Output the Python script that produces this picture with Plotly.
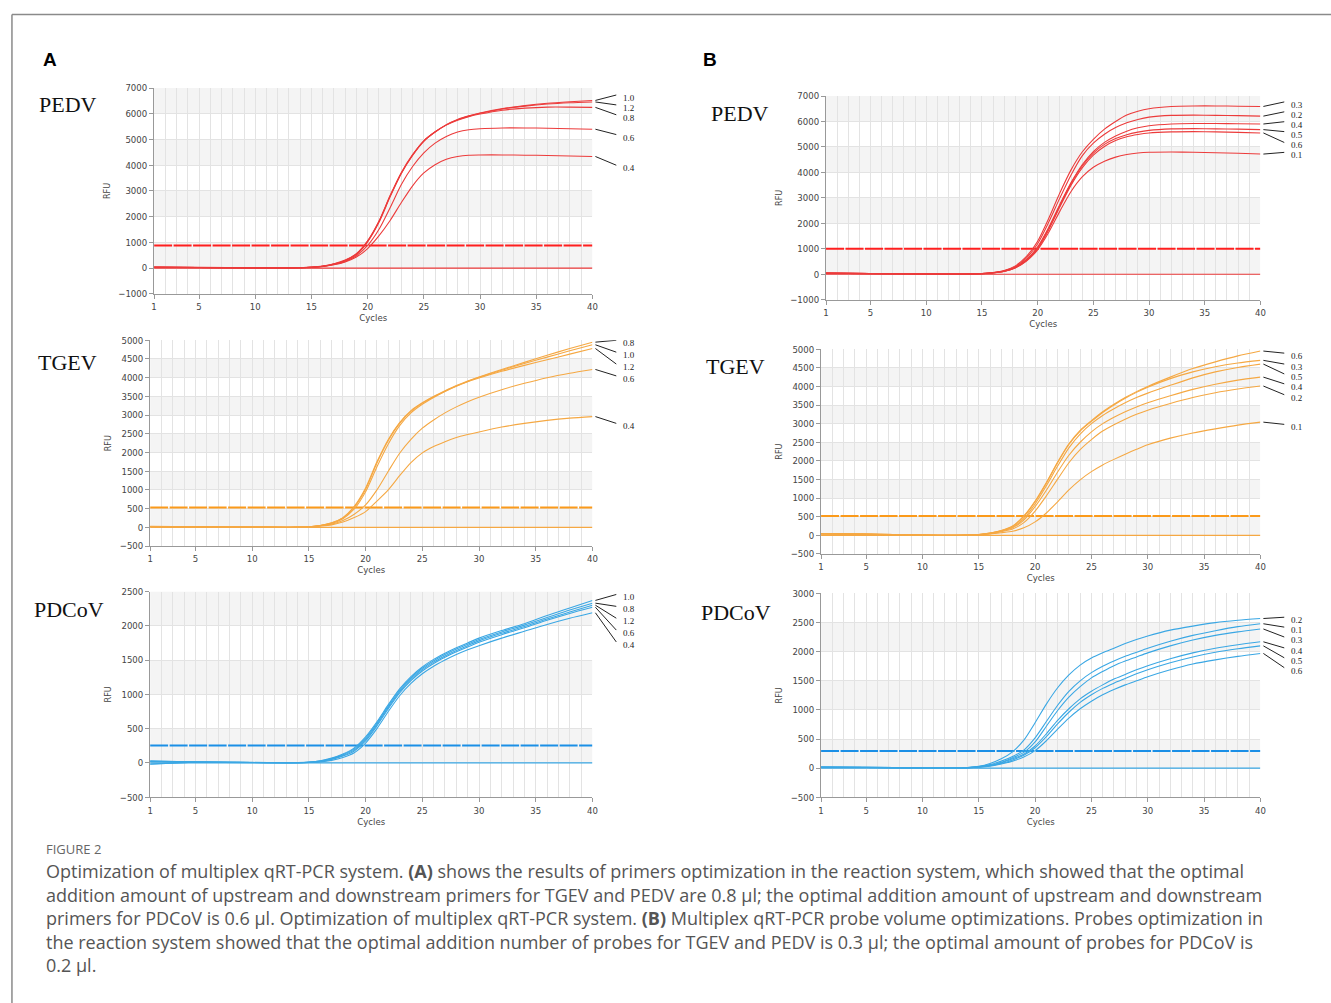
import plotly.graph_objects as go

W, H = 1331, 1003
FW, FH = W, H

# ---------------- data ----------------
cycles = [1, 5, 10, 13, 14, 15, 16, 17, 18, 19, 20, 21, 22, 23, 24, 25, 26, 27, 28, 29, 30, 32, 34, 36, 38, 40]

# Panel A – PEDV (primer volume, µl)
a_pedv_labels = ["1.0", "1.2", "0.8", "0.6", "0.4"]
a_pedv_10 = [40, 25, 10, 8, 15, 35, 75, 160, 300, 550, 1050, 1800, 2800, 3700, 4400, 4950, 5300, 5580, 5780, 5920, 6030, 6200, 6320, 6410, 6470, 6520]
a_pedv_12 = [35, 25, 10, 8, 14, 33, 72, 155, 290, 530, 1020, 1770, 2770, 3680, 4380, 4930, 5290, 5570, 5770, 5910, 6020, 6190, 6300, 6380, 6430, 6460]
a_pedv_08 = [45, 28, 12, 9, 16, 36, 78, 165, 310, 560, 1060, 1820, 2820, 3720, 4410, 4950, 5290, 5560, 5750, 5890, 5990, 6140, 6220, 6260, 6260, 6250]
a_pedv_06 = [35, 22, 10, 8, 13, 30, 65, 140, 260, 480, 880, 1500, 2350, 3250, 3950, 4480, 4860, 5120, 5290, 5380, 5420, 5450, 5450, 5440, 5420, 5400]
a_pedv_04 = [30, 20, 8, 6, 12, 28, 60, 130, 240, 430, 760, 1250, 1850, 2550, 3200, 3700, 4020, 4230, 4340, 4390, 4400, 4400, 4390, 4380, 4360, 4340]
a_pedv_threshold = 880

# Panel A – TGEV
a_tgev_labels = ["0.8", "1.0", "1.2", "0.6", "0.4"]
a_tgev_08 = [20, 15, 5, 3, 5, 15, 50, 120, 260, 560, 1050, 1750, 2350, 2800, 3120, 3330, 3500, 3650, 3790, 3910, 4020, 4220, 4410, 4600, 4780, 4950]
a_tgev_10 = [25, 16, 6, 3, 5, 14, 48, 115, 250, 540, 1020, 1720, 2320, 2780, 3100, 3320, 3490, 3640, 3780, 3900, 4010, 4200, 4380, 4550, 4720, 4880]
a_tgev_12 = [22, 15, 5, 3, 5, 13, 45, 105, 230, 490, 950, 1620, 2230, 2720, 3060, 3290, 3470, 3630, 3770, 3890, 3990, 4170, 4330, 4480, 4630, 4780]
a_tgev_06 = [20, 14, 5, 3, 4, 12, 40, 85, 180, 350, 600, 1000, 1500, 1980, 2350, 2650, 2870, 3060, 3220, 3360, 3480, 3680, 3850, 4000, 4120, 4220]
a_tgev_04 = [18, 13, 5, 3, 4, 10, 32, 65, 140, 260, 420, 700, 1000, 1380, 1730, 1990, 2160, 2290, 2400, 2480, 2550, 2680, 2780, 2860, 2920, 2960]
a_tgev_threshold = 530

# Panel A – PDCoV
a_pdcov_labels = ["1.0", "0.8", "1.2", "0.6", "0.4"]
a_pdcov_10 = [25, 15, 8, 3, 5, 12, 30, 70, 130, 220, 380, 600, 850, 1080, 1260, 1400, 1510, 1600, 1680, 1750, 1820, 1930, 2030, 2150, 2260, 2370]
a_pdcov_08 = [-15, 10, 6, 2, 4, 11, 28, 65, 120, 205, 360, 580, 830, 1060, 1240, 1380, 1490, 1580, 1660, 1730, 1800, 1910, 2010, 2120, 2230, 2330]
a_pdcov_12 = [30, 14, 6, 2, 3, 10, 25, 58, 110, 190, 340, 560, 810, 1040, 1220, 1360, 1470, 1560, 1640, 1710, 1780, 1890, 1990, 2100, 2200, 2300]
a_pdcov_06 = [-20, 12, 6, 2, 3, 9, 22, 52, 100, 175, 320, 540, 790, 1020, 1200, 1340, 1450, 1540, 1620, 1690, 1760, 1870, 1970, 2080, 2180, 2270]
a_pdcov_04 = [20, 12, 5, 1, 2, 6, 15, 38, 80, 150, 290, 500, 750, 980, 1160, 1300, 1410, 1500, 1580, 1650, 1710, 1820, 1920, 2020, 2110, 2190]
a_pdcov_threshold = 255

# Panel B – PEDV (probe volume, µl)
b_pedv_labels = ["0.3", "0.2", "0.4", "0.5", "0.6", "0.1"]
b_pedv_03 = [50, 30, 15, 10, 15, 30, 70, 150, 330, 700, 1300, 2200, 3200, 4100, 4800, 5300, 5700, 6000, 6250, 6400, 6500, 6590, 6610, 6610, 6600, 6590]
b_pedv_02 = [45, 28, 14, 10, 14, 28, 65, 140, 300, 640, 1200, 2050, 3000, 3900, 4650, 5150, 5500, 5760, 5950, 6080, 6170, 6240, 6250, 6240, 6230, 6210]
b_pedv_04 = [45, 28, 14, 10, 14, 27, 60, 130, 280, 580, 1080, 1850, 2750, 3600, 4300, 4820, 5180, 5430, 5620, 5750, 5830, 5900, 5920, 5920, 5910, 5900]
b_pedv_05 = [40, 26, 13, 9, 13, 26, 58, 125, 270, 560, 1040, 1800, 2700, 3560, 4250, 4760, 5100, 5330, 5480, 5580, 5650, 5710, 5720, 5710, 5700, 5680]
b_pedv_06 = [40, 25, 12, 9, 12, 25, 55, 120, 260, 540, 1000, 1750, 2650, 3500, 4180, 4680, 5020, 5250, 5400, 5490, 5550, 5590, 5600, 5590, 5570, 5550]
b_pedv_01 = [38, 24, 12, 8, 12, 24, 52, 115, 250, 520, 960, 1650, 2480, 3250, 3820, 4200, 4440, 4600, 4700, 4760, 4790, 4800, 4790, 4770, 4750, 4720]
b_pedv_threshold = 1000

# Panel B – TGEV
b_tgev_labels = ["0.6", "0.3", "0.5", "0.4", "0.2", "0.1"]
b_tgev_06 = [45, 35, 5, 3, 6, 20, 60, 130, 250, 520, 920, 1420, 1970, 2460, 2820, 3080, 3320, 3520, 3700, 3860, 4000, 4250, 4480, 4660, 4820, 4950]
b_tgev_03 = [40, 30, 5, 3, 6, 19, 58, 125, 240, 500, 900, 1400, 1950, 2440, 2800, 3060, 3300, 3500, 3680, 3840, 3980, 4210, 4390, 4530, 4630, 4700]
b_tgev_05 = [50, 32, 6, 3, 6, 18, 55, 120, 220, 450, 840, 1330, 1860, 2350, 2720, 3000, 3220, 3400, 3560, 3700, 3820, 4030, 4230, 4390, 4510, 4600]
b_tgev_04 = [38, 28, 5, 3, 5, 16, 50, 110, 200, 410, 770, 1210, 1700, 2150, 2500, 2780, 3000, 3170, 3320, 3450, 3560, 3750, 3920, 4060, 4170, 4250]
b_tgev_02 = [42, 30, 5, 3, 5, 15, 45, 100, 170, 340, 650, 1060, 1510, 1950, 2300, 2570, 2800, 2970, 3120, 3250, 3360, 3540, 3700, 3830, 3930, 4010]
b_tgev_01 = [35, 25, 4, 2, 4, 12, 35, 70, 110, 200, 360, 600, 900, 1220, 1490, 1710, 1890, 2040, 2180, 2310, 2430, 2610, 2750, 2860, 2960, 3040]
b_tgev_threshold = 520

# Panel B – PDCoV
b_pdcov_labels = ["0.2", "0.1", "0.3", "0.4", "0.5", "0.6"]
b_pdcov_02 = [20, 15, 3, 2, 10, 30, 80, 160, 280, 480, 780, 1100, 1380, 1600, 1770, 1890, 1980, 2060, 2140, 2210, 2270, 2370, 2440, 2500, 2540, 2570]
b_pdcov_01 = [18, 14, 3, 2, 8, 25, 60, 120, 200, 310, 520, 800, 1080, 1320, 1500, 1640, 1750, 1840, 1920, 1990, 2060, 2180, 2280, 2360, 2430, 2480]
b_pdcov_03 = [16, 13, 3, 1, 7, 22, 50, 100, 180, 270, 450, 720, 990, 1220, 1400, 1550, 1660, 1760, 1840, 1910, 1980, 2100, 2200, 2280, 2340, 2390]
b_pdcov_04 = [15, 12, 2, 1, 6, 20, 45, 90, 160, 240, 380, 590, 820, 1020, 1190, 1320, 1430, 1530, 1610, 1690, 1760, 1880, 1980, 2060, 2120, 2170]
b_pdcov_05 = [15, 12, 2, 1, 6, 18, 40, 80, 140, 220, 350, 540, 760, 960, 1130, 1260, 1370, 1460, 1540, 1620, 1690, 1810, 1910, 1990, 2050, 2100]
b_pdcov_06 = [14, 11, 2, 1, 5, 16, 35, 70, 120, 190, 300, 470, 670, 860, 1020, 1150, 1260, 1350, 1430, 1500, 1570, 1690, 1790, 1860, 1920, 1970]
b_pdcov_threshold = 295

x_tick_vals = [1, 5, 10, 15, 20, 25, 30, 35, 40]

# ---------------- styles / layout geometry ----------------
RED, RED_T = "#ec3b3b", "#ff1f1f"
ORG, ORG_T = "#f5a843", "#fb9a1a"
BLU, BLU_T = "#3aa7e4", "#1b8fe6"

panels = [
    dict(name="PEDV", curves=[a_pedv_10, a_pedv_12, a_pedv_08, a_pedv_06, a_pedv_04], labels=a_pedv_labels,
         thr=a_pedv_threshold, col=RED, tcol=RED_T, xpx=(152, 593), ypx=(83, 291), yr=(-1000, 7000), dt=1000,
         name_xy=(65, 100), lab_px=[93, 103, 113, 133, 164]),
    dict(name="TGEV", curves=[a_tgev_08, a_tgev_10, a_tgev_12, a_tgev_06, a_tgev_04], labels=a_tgev_labels,
         thr=a_tgev_threshold, col=ORG, tcol=ORG_T, xpx=(148, 593), ypx=(338, 546), yr=(-500, 5000), dt=500,
         name_xy=(65, 360), lab_px=[341, 353, 365, 377, 425]),
    dict(name="PDCoV", curves=[a_pdcov_10, a_pdcov_08, a_pdcov_12, a_pdcov_06, a_pdcov_04], labels=a_pdcov_labels,
         thr=a_pdcov_threshold, col=BLU, tcol=BLU_T, xpx=(148, 593), ypx=(592, 800), yr=(-500, 2500), dt=500,
         name_xy=(66, 610), lab_px=[598, 610, 622, 634, 646]),
    dict(name="PEDV", curves=[b_pedv_03, b_pedv_02, b_pedv_04, b_pedv_05, b_pedv_06, b_pedv_01], labels=b_pedv_labels,
         thr=b_pedv_threshold, col=RED, tcol=RED_T, xpx=(828, 1265), ypx=(91, 297), yr=(-1000, 7000), dt=1000,
         name_xy=(741, 109), lab_px=[100, 110, 120, 130, 141, 151]),
    dict(name="TGEV", curves=[b_tgev_06, b_tgev_03, b_tgev_05, b_tgev_04, b_tgev_02, b_tgev_01], labels=b_tgev_labels,
         thr=b_tgev_threshold, col=ORG, tcol=ORG_T, xpx=(823, 1265), ypx=(347, 554), yr=(-500, 5000), dt=500,
         name_xy=(737, 365), lab_px=[354, 365, 375, 385, 396, 426]),
    dict(name="PDCoV", curves=[b_pdcov_02, b_pdcov_01, b_pdcov_03, b_pdcov_04, b_pdcov_05, b_pdcov_06], labels=b_pdcov_labels,
         thr=b_pdcov_threshold, col=BLU, tcol=BLU_T, xpx=(823, 1265), ypx=(594, 800), yr=(-500, 3000), dt=500,
         name_xy=(737, 613), lab_px=[621, 631, 641, 652, 662, 672]),
]

TICK_FONT = dict(family="Liberation Sans Narrow, DejaVu Sans Condensed, Roboto Condensed, Arial Narrow, sans-serif", size=9.5, color="#444")
SERIF = "Liberation Serif, Times New Roman, serif"
GRID = "#e3e3e3"
BAND = "#f4f4f4"
AXC = "#999999"


def px_x(px):
    return px / FW


def px_y(py):
    return 1 - py / FH


fig = go.Figure()
shapes = []
annotations = []
layout_axes = {}

for i, p in enumerate(panels, start=1):
    xa = "x" if i == 1 else f"x{i}"
    ya = "y" if i == 1 else f"y{i}"
    y0, y1 = p["yr"]
    top, bot = p["ypx"]
    left, right = p["xpx"]

    # alternating grey bands
    k = 0
    while k * p["dt"] < y1:
        if k % 2 == 0:
            shapes.append(dict(type="rect", xref=xa, yref=ya, x0=1, x1=40, y0=k * p["dt"], y1=(k + 1) * p["dt"],
                               fillcolor=BAND, line=dict(width=0), layer="below"))
        k += 1

    # baseline and threshold
    fig.add_trace(go.Scatter(x=[cycles[0], cycles[-1]], y=[0, 0], mode="lines", xaxis=xa, yaxis=ya,
                             line=dict(color=p["col"], width=1.2), hoverinfo="skip", showlegend=False))
    fig.add_trace(go.Scatter(x=[cycles[0], cycles[-1]], y=[p["thr"], p["thr"]], mode="lines", xaxis=xa, yaxis=ya,
                             line=dict(color=p["tcol"], width=2, dash="18px,1.5px"), hoverinfo="skip", showlegend=False))
    # amplification curves
    for lab, vals in zip(p["labels"], p["curves"]):
        fig.add_trace(go.Scatter(x=cycles, y=vals, mode="lines", xaxis=xa, yaxis=ya, name=lab,
                                 line=dict(color=p["col"], width=1.1, shape="spline", smoothing=0.7),
                                 hoverinfo="skip", showlegend=False))

    layout_axes["xaxis" if i == 1 else f"xaxis{i}"] = dict(
        domain=[px_x(left), px_x(right)], anchor=ya, range=[1, 40], tickmode="array", tickvals=x_tick_vals,
        ticks="outside", ticklen=4, tickcolor=AXC, showline=True, linecolor=AXC, linewidth=1,
        showgrid=True, gridcolor=GRID, gridwidth=1, zeroline=False,
        minor=dict(tickmode="linear", tick0=1, dtick=1, showgrid=True, gridcolor=GRID, gridwidth=1),
        tickfont=TICK_FONT, title=dict(text="Cycles", font=TICK_FONT, standoff=1), fixedrange=True)
    layout_axes["yaxis" if i == 1 else f"yaxis{i}"] = dict(
        domain=[px_y(bot), px_y(top)], anchor=xa, range=[y0, y1], tickmode="linear", tick0=y0, dtick=p["dt"],
        ticks="outside", ticklen=4, tickcolor=AXC, showline=True, linecolor=AXC, linewidth=1,
        showgrid=True, gridcolor=GRID, gridwidth=1, zeroline=False,
        tickfont=TICK_FONT, title=dict(text="RFU", font=dict(TICK_FONT, size=9), standoff=6), fixedrange=True)

    # virus name
    annotations.append(dict(xref="paper", yref="paper", x=px_x(p["name_xy"][0]), y=px_y(p["name_xy"][1]),
                            text=p["name"], showarrow=False, xanchor="center", yanchor="middle",
                            font=dict(family=SERIF, size=22, color="#111")))

    # curve labels with leader lines
    units_per_px = (y1 - y0) / (bot - top)
    for lab, vals, lpx in zip(p["labels"], p["curves"], p["lab_px"]):
        lab_val = y1 - (lpx - top) * units_per_px
        shapes.append(dict(type="line", xref="paper", yref=ya, x0=px_x(right + 3), x1=px_x(right + 24),
                           y0=vals[-1], y1=lab_val + 3 * units_per_px, line=dict(color="#222", width=1)))
        annotations.append(dict(xref="paper", yref=ya, x=px_x(right + 29), y=lab_val, text=lab, showarrow=False,
                                xanchor="left", yanchor="middle", font=dict(family=SERIF, size=9, color="#222")))

# frame (left and top rules)
shapes.append(dict(type="line", xref="paper", yref="paper", x0=px_x(9), x1=px_x(9), y0=-0.02, y1=px_y(8.5),
                   line=dict(color="#8a8a8a", width=1.5)))
shapes.append(dict(type="line", xref="paper", yref="paper", x0=px_x(9), x1=1.02, y0=px_y(8.5), y1=px_y(8.5),
                   line=dict(color="#8a8a8a", width=1.5)))

# panel letters
for letter, (lx, ly) in [("A", (47, 54)), ("B", (711, 54))]:
    annotations.append(dict(xref="paper", yref="paper", x=px_x(lx), y=px_y(ly), text=f"<b>{letter}</b>",
                            showarrow=False, xanchor="center", yanchor="middle",
                            font=dict(family="Liberation Sans, Arial, sans-serif", size=19, color="#000")))

# caption
CAP_FONT = "Open Sans, Lato, sans-serif"
annotations.append(dict(xref="paper", yref="paper", x=px_x(41), y=px_y(852), text="FIGURE 2", showarrow=False,
                        xanchor="left", yanchor="middle", font=dict(family=CAP_FONT, size=13, color="#666")))
caption_lines = [
    "Optimization of multiplex qRT-PCR system. <b>(A)</b> shows the results of primers optimization in the reaction system, which showed that the optimal",
    "addition amount of upstream and downstream primers for TGEV and PEDV are 0.8 μl; the optimal addition amount of upstream and downstream",
    "primers for PDCoV is 0.6 μl. Optimization of multiplex qRT-PCR system. <b>(B)</b> Multiplex qRT-PCR probe volume optimizations. Probes optimization in",
    "the reaction system showed that the optimal addition number of probes for TGEV and PEDV is 0.3 μl; the optimal amount of probes for PDCoV is",
    "0.2 μl.",
]
for j, line in enumerate(caption_lines):
    annotations.append(dict(xref="paper", yref="paper", x=px_x(41), y=px_y(875 + j * 23.75), text=line,
                            showarrow=False, xanchor="left", yanchor="middle",
                            font=dict(family=CAP_FONT, size=18, color="#555")))

fig.update_layout(width=FW, height=FH, margin=dict(l=0, r=0, t=0, b=0), paper_bgcolor="white",
                  plot_bgcolor="white", shapes=shapes, annotations=annotations, showlegend=False, **layout_axes)

fig.write_html("out.html", config=dict(displayModeBar=False))
